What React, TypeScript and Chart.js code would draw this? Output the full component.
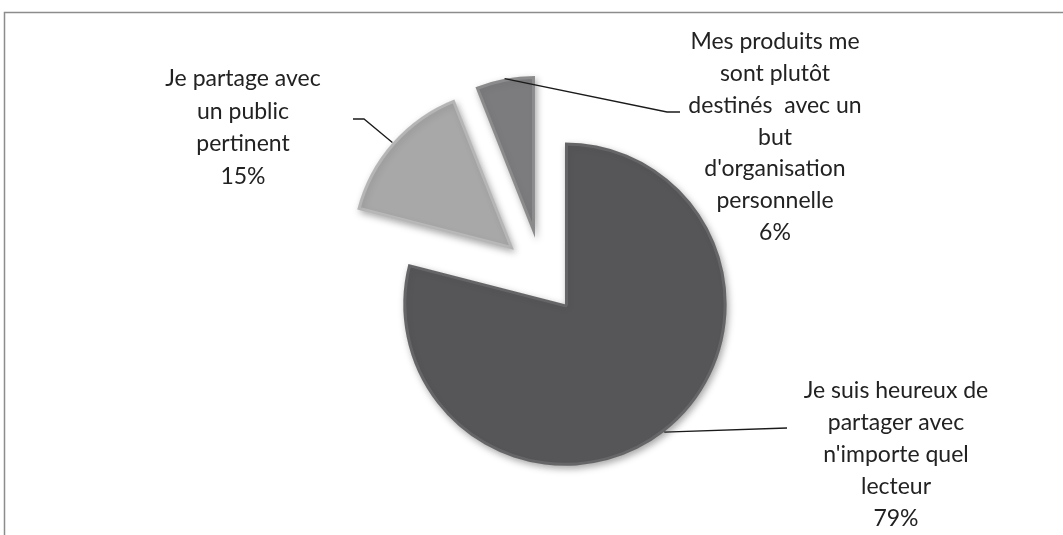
import React, { useEffect, useRef } from "react";
import { Chart, registerables } from "chart.js";

Chart.register(...registerables);

const labels = [
  ["Je suis heureux de", "partager avec", "n'importe quel", "lecteur"],
  ["Je partage avec", "un public", "pertinent"],
  ["Mes produits me", "sont plutôt", "destinés  avec un", "but", "d'organisation", "personnelle"],
];
const values = [79, 15, 6];
const percentLabels = ["79%", "15%", "6%"];
const colors = ["#565658", "#a8a8a8", "#7c7c7e"];
const rimColors = ["rgba(255,255,255,0.10)", "rgba(255,255,255,0.22)", "rgba(255,255,255,0.14)"];

const EXPLODE = 37.5;
const RADIUS = 162;

// label placement: text centre x, first line y, line spacing, leader elbow and end
const labelLayout = [
  { cx: 896, y0: 391, lh: 32, elbow: [787, 428], end: [787, 428] },
  { cx: 243, y0: 79, lh: 32.5, elbow: [364, 119], end: [353, 119] },
  { cx: 775, y0: 42, lh: 31.7, elbow: [667, 112], end: [680, 112] },
];

const FONT = "Lato";

function explodeShift(arc: any) {
  const mid = (arc.startAngle + arc.endAngle) / 2;
  return [Math.cos(mid) * EXPLODE, Math.sin(mid) * EXPLODE, mid];
}

const piePlugin = {
  id: "explodedPie",
  beforeDraw(chart: any) {
    const ctx = chart.ctx;
    ctx.save();
    ctx.strokeStyle = "#8c8c8c";
    ctx.lineWidth = 1.5;
    ctx.beginPath();
    ctx.moveTo(4.5, chart.height);
    ctx.lineTo(4.5, 12.5);
    ctx.lineTo(chart.width, 12.5);
    ctx.stroke();
    ctx.restore();
  },
  beforeDatasetDraw(chart: any, args: any) {
    const ctx = chart.ctx;
    const meta = args.meta;
    meta.data.forEach((arc: any) => {
      const [dx, dy] = explodeShift(arc);
      ctx.save();
      ctx.translate(dx, dy);
      ctx.shadowColor = "rgba(0,0,0,0.35)";
      ctx.shadowBlur = 7;
      ctx.shadowOffsetX = 2;
      ctx.shadowOffsetY = 3;
      arc.draw(ctx, chart.chartArea);
      ctx.restore();
    });
    return false;
  },
  afterDatasetsDraw(chart: any) {
    const ctx = chart.ctx;
    const meta = chart.getDatasetMeta(0);
    meta.data.forEach((arc: any, i: number) => {
      const [dx, dy, mid] = explodeShift(arc);
      const ax = arc.x + dx + Math.cos(mid) * arc.outerRadius;
      const ay = arc.y + dy + Math.sin(mid) * arc.outerRadius;
      const L = labelLayout[i];
      ctx.save();
      ctx.strokeStyle = "#1a1a1a";
      ctx.lineWidth = 1.3;
      ctx.beginPath();
      ctx.moveTo(ax, ay);
      ctx.lineTo(L.elbow[0], L.elbow[1]);
      ctx.lineTo(L.end[0], L.end[1]);
      ctx.stroke();
      ctx.fillStyle = "#222222";
      ctx.font = `23px ${FONT}`;
      ctx.textAlign = "center";
      ctx.textBaseline = "middle";
      const lines = [...labels[i], percentLabels[i]];
      lines.forEach((s, k) => ctx.fillText(s, L.cx, L.y0 + k * L.lh));
      ctx.restore();
    });
  },
};

export default function App() {
  const ref = useRef<HTMLCanvasElement | null>(null);
  useEffect(() => {
    if (!ref.current) return;
    const chart = new Chart(ref.current, {
      type: "pie",
      data: {
        labels: labels.map((l) => l.join(" ")),
        datasets: [
          {
            data: values,
            backgroundColor: colors,
            borderColor: rimColors,
            borderWidth: 3,
            borderAlign: "inner",
            radius: RADIUS,
          } as any,
        ],
      },
      options: {
        animation: false,
        responsive: false,
        layout: { padding: { left: 21, right: 0, top: 14, bottom: 0 } },
        plugins: { legend: { display: false }, tooltip: { enabled: false } },
      },
      plugins: [piePlugin],
    });
    return () => chart.destroy();
  }, []);
  return (
    <div style={{ position: "fixed", left: 0, top: 0, width: 1063, height: 535, background: "#fff" }}>
      <canvas ref={ref} width={1063} height={535} style={{ width: 1063, height: 535 }} />
    </div>
  );
}
